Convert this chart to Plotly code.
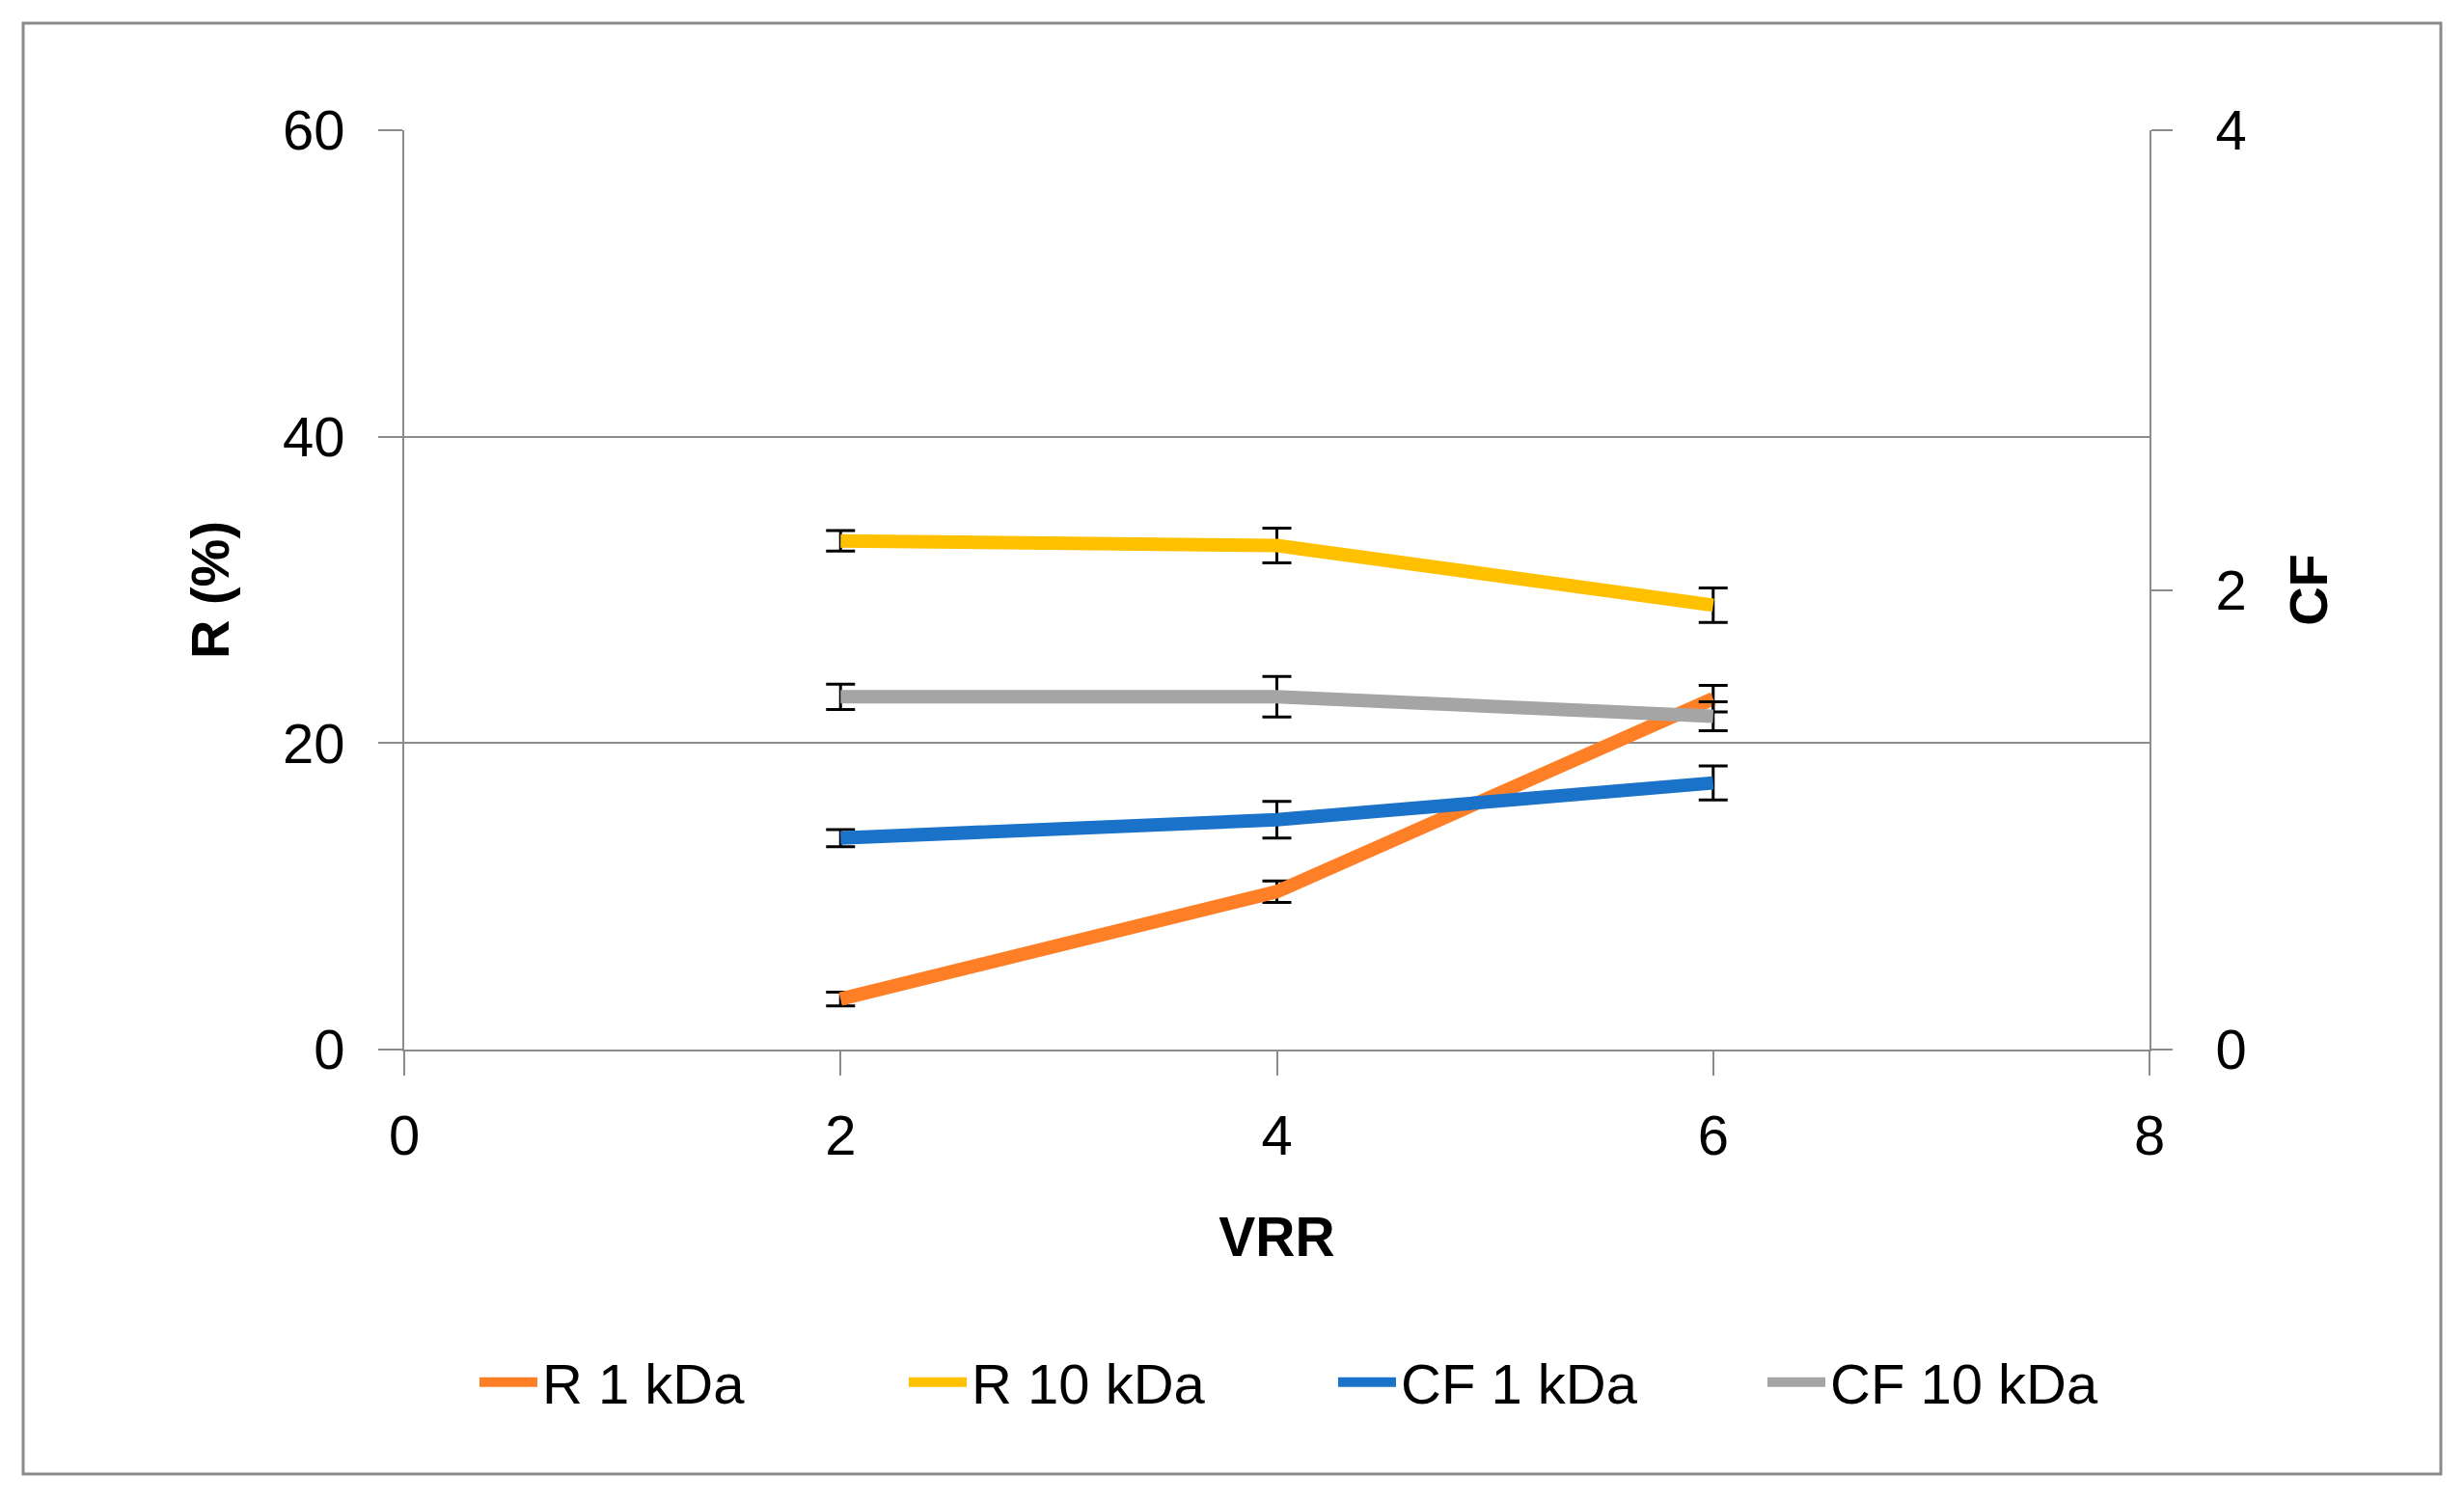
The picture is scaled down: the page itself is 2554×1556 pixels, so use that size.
import plotly.graph_objects as go

vrr = [2, 4, 6]
r_1kda = [3.3, 10.3, 22.9]
r_1kda_err = [0.45, 0.7, 0.87]
r_10kda = [33.2, 32.9, 29.0]
r_10kda_err = [0.67, 1.13, 1.12]
cf_1kda = [0.92, 1.00, 1.16]
cf_1kda_err = [0.037, 0.08, 0.074]
cf_10kda = [1.535, 1.535, 1.45]
cf_10kda_err = [0.055, 0.088, 0.063]

names = ["R 1 kDa", "R 10 kDa", "CF 1 kDa", "CF 10 kDa"]
colors = ["#FF7F27", "#FFC000", "#1A73C8", "#A5A5A5"]

FONT = "Liberation Sans, Arial, sans-serif"
GRID = "#8C8C8C"

OFF = 8  # default page body margin
W, H = 2554 - 2 * OFF, 1556 - 2 * OFF
px0, px1, py0, py1 = 419 - OFF, 2228 - OFF, 135 - OFF, 1088 - OFF
L, R, T, B = px0, W - px1, py0, H - py1
pw, ph = px1 - px0, py1 - py0

def paper_x(p):
    return (p - OFF - px0) / pw

def paper_y(p):
    return (py1 - (p - OFF)) / ph

fig = go.Figure()
series = [
    (r_1kda, r_1kda_err, "y"),
    (r_10kda, r_10kda_err, "y"),
    (cf_1kda, cf_1kda_err, "y2"),
    (cf_10kda, cf_10kda_err, "y2"),
]
for (vals, errs, ax), name, col in zip(series, names, colors):
    fig.add_trace(go.Scatter(
        x=vrr, y=vals, name=name, mode="lines", yaxis=ax,
        line=dict(color=col, width=14),
        error_y=dict(type="data", array=errs, visible=True,
                     color="black", thickness=3, width=15),
    ))

fig.update_layout(
    width=W, height=H,
    margin=dict(l=L, r=R, t=T, b=B, autoexpand=False),
    paper_bgcolor="white", plot_bgcolor="white",
    font=dict(family=FONT, size=58, color="black"),
    showlegend=True,
    legend=dict(orientation="h", x=paper_x(492), xanchor="left",
                y=paper_y(1433), yanchor="middle",
                font=dict(size=58), entrywidth=370, entrywidthmode="pixels",
                itemwidth=60, bgcolor="rgba(0,0,0,0)"),
    xaxis=dict(range=[0, 8], dtick=2, tick0=0, showgrid=False,
               showline=True, linecolor=GRID, linewidth=2,
               ticks="outside", ticklen=25, tickwidth=2, tickcolor=GRID,
               ticklabelstandoff=12, zeroline=False,
               title=dict(text="<b>VRR</b>", font=dict(size=57), standoff=55)),
    yaxis=dict(range=[0, 60], dtick=20, tick0=0, showgrid=True,
               gridcolor=GRID, gridwidth=2,
               showline=True, linecolor=GRID, linewidth=2,
               ticks="outside", ticklen=25, tickwidth=2, tickcolor=GRID,
               ticklabelstandoff=23, zeroline=False,
               title=dict(text="<b>R (%)</b>", font=dict(size=56), standoff=37)),
    yaxis2=dict(range=[0, 4], dtick=2, tick0=0, overlaying="y", side="right",
                showgrid=False, showline=True, linecolor=GRID, linewidth=2,
                ticks="outside", ticklen=22, tickwidth=2, tickcolor=GRID,
                ticklabelstandoff=33, zeroline=False,
                title=dict(text="<b>CF</b>", font=dict(size=56), standoff=45)),
    shapes=[dict(type="rect", xref="paper", yref="paper",
                 x0=paper_x(24), x1=paper_x(2530),
                 y0=paper_y(1528), y1=paper_y(24),
                 line=dict(color="#8A8A8A", width=3), layer="below")],
)

fig.write_html("out.html")
